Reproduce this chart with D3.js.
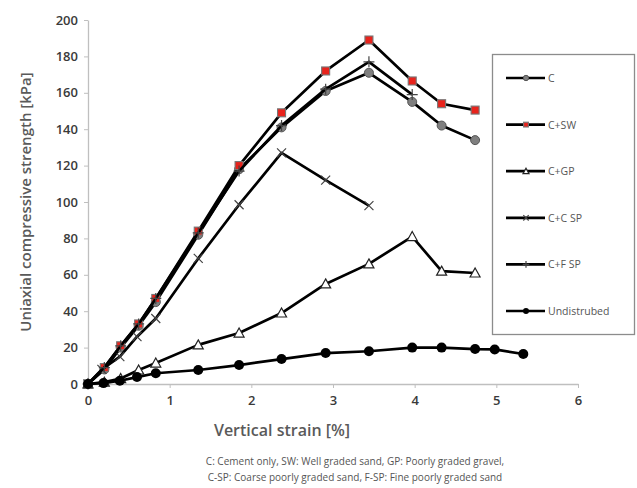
<!DOCTYPE html>
<html>
<head>
<meta charset="utf-8">
<script src="https://cdn.jsdelivr.net/npm/d3@7"></script>
<style>
  body { margin: 0; background: #fff; }
  text { font-family: "Open Sans", "Noto Sans", sans-serif; }
</style>
</head>
<body>
<svg id="chart" width="637" height="488"></svg>
<script>
// data
const strainMain = [0, 0.2, 0.4, 0.62, 0.83, 1.35, 1.85, 2.37, 2.91, 3.44, 3.97, 4.33, 4.74];
const strainCSP = [0, 0.17, 0.39, 0.6, 0.83, 1.35, 1.85, 2.37, 2.91, 3.44];
const strainUnd = [0, 0.19, 0.39, 0.6, 0.83, 1.35, 1.85, 2.37, 2.91, 3.44, 3.97, 4.33, 4.74, 4.98, 5.33];

const valC   = [0, 8, 20, 32, 45, 82, 118, 141, 161, 171, 155, 142, 134];
const valCSW = [0, 9, 21, 33, 47, 84, 120, 149, 172, 189, 166.5, 154, 150.5];
const valCGP = [0, 1, 3, 7.7, 11.5, 21.5, 28, 39, 55, 66, 81, 62, 61];
const valCCSP = [0, 8, 15, 26, 36, 69, 98.5, 127, 112, 98];
const valCFSP = [0, 9, 21, 33, 47, 83, 117, 142, 162, 177, 159];
const valUnd = [0, 0.5, 1.8, 3.8, 5.9, 7.7, 10.4, 13.7, 17, 18, 20, 20, 19.2, 19, 16.5];

const xTicks = [0, 1, 2, 3, 4, 5, 6];
const yTicks = [0, 20, 40, 60, 80, 100, 120, 140, 160, 180, 200];

const series = [
  { name: "C", xs: strainMain, ys: valC, marker: "circleGray" },
  { name: "C+SW", xs: strainMain, ys: valCSW, marker: "squareRed" },
  { name: "C+GP", xs: strainMain, ys: valCGP, marker: "triangle" },
  { name: "C+C SP", xs: strainCSP, ys: valCCSP, marker: "cross" },
  { name: "C+F SP", xs: strainMain.slice(0, valCFSP.length), ys: valCFSP, marker: "plus" },
  { name: "Undistrubed", xs: strainUnd, ys: valUnd, marker: "circleBlack" }
];

const svg = d3.select("#chart");

const x = d3.scaleLinear().domain([0, 6]).range([88, 578]);
const y = d3.scaleLinear().domain([0, 200]).range([384, 20]);

// axes
const xAxis = svg.append("g")
  .attr("transform", "translate(0,384)")
  .call(d3.axisBottom(x).tickValues(xTicks).tickFormat(d3.format("d"))
    .tickSize(4).tickSizeOuter(0).tickPadding(8));
const yAxis = svg.append("g")
  .attr("transform", "translate(88,0)")
  .call(d3.axisLeft(y).tickValues(yTicks).tickSize(4).tickSizeOuter(0).tickPadding(6));

[xAxis, yAxis].forEach(a => {
  a.select(".domain").attr("stroke", "#bfbfbf").attr("stroke-width", 1.3);
  a.selectAll(".tick line").attr("stroke", "#bfbfbf");
  a.selectAll(".tick text")
    .attr("font-size", 13)
    .attr("font-weight", "600")
    .attr("fill", "#3a3a3a");
});

// markers
function drawMarker(g, type, cx, cy, s) {
  s = s || 1;
  if (type === "circleGray") {
    g.append("circle").attr("cx", cx).attr("cy", cy).attr("r", 4.5 * s)
      .attr("fill", "#7f7f7f").attr("stroke", "#555").attr("stroke-width", 1);
  } else if (type === "circleBlack") {
    g.append("circle").attr("cx", cx).attr("cy", cy).attr("r", 5 * s)
      .attr("fill", "#000");
  } else if (type === "squareRed") {
    const h = 4 * s;
    g.append("rect").attr("x", cx - h).attr("y", cy - h).attr("width", 2 * h).attr("height", 2 * h)
      .attr("fill", "#e8231c").attr("stroke", "#777").attr("stroke-width", 1.1);
  } else if (type === "triangle") {
    const h = 5 * s;
    g.append("path")
      .attr("d", `M${cx},${cy - h}L${cx + h},${cy + h * 0.8}L${cx - h},${cy + h * 0.8}Z`)
      .attr("fill", "#fff").attr("stroke", "#222").attr("stroke-width", 1.2);
  } else if (type === "cross") {
    const h = 4.5 * s;
    g.append("path")
      .attr("d", `M${cx - h},${cy - h}L${cx + h},${cy + h}M${cx - h},${cy + h}L${cx + h},${cy - h}`)
      .attr("stroke", "#444").attr("stroke-width", 1.2).attr("fill", "none");
  } else if (type === "plus") {
    const h = 5.5 * s;
    g.append("path")
      .attr("d", `M${cx - h},${cy}L${cx + h},${cy}M${cx},${cy - h}L${cx},${cy + h}`)
      .attr("stroke", "#444").attr("stroke-width", 1.2).attr("fill", "none");
  }
}

const line = d3.line().x(d => x(d[0])).y(d => y(d[1]));

// each series: line then its markers, so later lines cover earlier markers
series.forEach(s => {
  const pts = s.xs.map((v, i) => [v, s.ys[i]]);
  const g = svg.append("g");
  g.append("path")
    .datum(pts)
    .attr("d", line)
    .attr("fill", "none")
    .attr("stroke", "#000")
    .attr("stroke-width", 2.7)
    .attr("stroke-linejoin", "round");
  pts.forEach(p => drawMarker(g, s.marker, x(p[0]), y(p[1])));
});

// legend
const legend = svg.append("g");
legend.append("rect")
  .attr("x", 492.5).attr("y", 54.5).attr("width", 142).attr("height", 280)
  .attr("fill", "#fff").attr("stroke", "#8c8c8c").attr("stroke-width", 1.3);

series.forEach((s, i) => {
  const ly = 78 + i * 46.6;
  legend.append("line")
    .attr("x1", 506).attr("x2", 545).attr("y1", ly).attr("y2", ly)
    .attr("stroke", "#000").attr("stroke-width", 2.7);
  drawMarker(legend, s.marker, 526, ly, 0.6);
  legend.append("text")
    .attr("x", 548).attr("y", ly + 4)
    .attr("font-size", 10.5)
    .attr("fill", "#555")
    .text(s.name);
});

// titles
svg.append("text")
  .attr("transform", "translate(31,202) rotate(-90)")
  .attr("text-anchor", "middle")
  .attr("font-size", 15)
  .attr("font-weight", "600")
  .attr("fill", "#5a5a5a")
  .text("Uniaxial compressive strength [kPa]");

svg.append("text")
  .attr("x", 282).attr("y", 436)
  .attr("text-anchor", "middle")
  .attr("font-size", 16)
  .attr("font-weight", "600")
  .attr("fill", "#5a5a5a")
  .text("Vertical strain [%]");

const caption = [
  "C: Cement only, SW: Well graded sand, GP: Poorly graded gravel,",
  "C-SP: Coarse poorly graded sand, F-SP: Fine poorly graded sand"
];
svg.selectAll(".cap")
  .data(caption)
  .enter()
  .append("text")
    .attr("x", 355)
    .attr("y", (d, i) => 465 + i * 16)
    .attr("text-anchor", "middle")
    .attr("font-size", 10)
    .attr("fill", "#555")
    .text(d => d);
</script>
</body>
</html>
